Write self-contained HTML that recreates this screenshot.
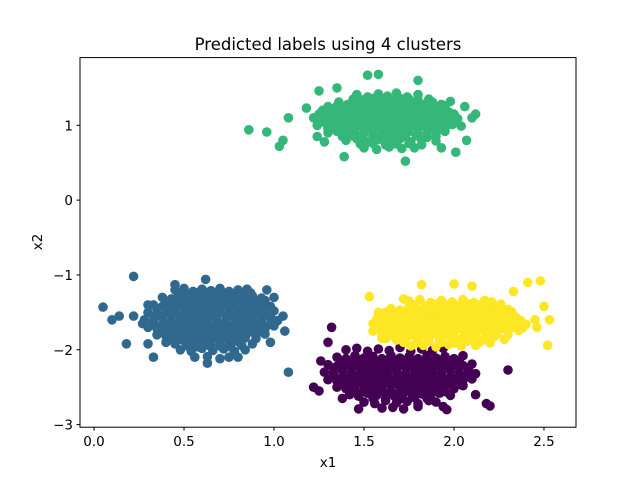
<!DOCTYPE html>
<html><head><meta charset="utf-8"><style>
body{margin:0;background:#fff;}
svg text{font-family:"DejaVu Sans","Liberation Sans",sans-serif;}
</style></head><body>
<svg id="chart" width="640" height="480" xmlns="http://www.w3.org/2000/svg">
<rect width="640" height="480" fill="#fff"/>
<text x="328" y="50" font-size="16.5" text-anchor="middle">Predicted labels using 4 clusters</text>
<g id="marks"></g>
<rect x="80" y="57.6" width="496" height="369.6" fill="none" stroke="#000" stroke-width="1"/>
<g id="axes"></g>
<text x="328" y="467" font-size="13.5" text-anchor="middle">x1</text>
<text x="0" y="0" font-size="13.5" text-anchor="middle" transform="translate(42,242) rotate(-90)">x2</text>
</svg>
<script>
const xTicks=[0.0,0.5,1.0,1.5,2.0,2.5];
const xTickLabels=["0.0","0.5","1.0","1.5","2.0","2.5"];
const yTicks=[1,0,-1,-2,-3];
const yTickLabels=["1","0","\u22121","\u22122","\u22123"];
const colors={purple:"#440154",blue:"#31688e",green:"#35b779",yellow:"#fde725"};
const purple=[[1.22,-2.5],[1.25,-2.55],[1.26,-2.15],[1.30,-1.9],[1.32,-1.7],[2.30,-2.27],[2.18,-2.72],[2.20,-2.75],[2.12,-2.6],[1.47,-2.79],[1.96,-2.8],[1.38,-2.65],
[1.40,-2.0],[1.46,-1.98],[1.52,-2.02],[1.58,-1.99],[1.64,-2.01],[1.70,-1.97],[1.76,-2.02],[1.82,-1.99],[1.88,-2.01],[1.94,-1.98],
[1.35,-2.1],[1.40,-2.12],[1.45,-2.08],[1.50,-2.11],[1.55,-2.09],[1.60,-2.12],[1.65,-2.08],[1.70,-2.11],[1.75,-2.09],[1.80,-2.12],[1.85,-2.08],[1.90,-2.11],[1.95,-2.09],[2.00,-2.12],[2.05,-2.08],
[1.30,-2.2],[1.35,-2.22],[1.40,-2.18],[1.45,-2.21],[1.50,-2.19],[1.55,-2.22],[1.60,-2.18],[1.65,-2.21],[1.70,-2.19],[1.75,-2.22],[1.80,-2.18],[1.85,-2.21],[1.90,-2.19],[1.95,-2.22],[2.00,-2.18],[2.05,-2.21],[2.10,-2.19],
[1.28,-2.3],[1.33,-2.32],[1.38,-2.28],[1.43,-2.31],[1.48,-2.29],[1.53,-2.32],[1.58,-2.28],[1.63,-2.31],[1.68,-2.29],[1.73,-2.32],[1.78,-2.28],[1.83,-2.31],[1.88,-2.29],[1.93,-2.32],[1.98,-2.28],[2.03,-2.31],[2.08,-2.29],[2.12,-2.32],
[1.30,-2.4],[1.35,-2.42],[1.40,-2.38],[1.45,-2.41],[1.50,-2.39],[1.55,-2.42],[1.60,-2.38],[1.65,-2.41],[1.70,-2.39],[1.75,-2.42],[1.80,-2.38],[1.85,-2.41],[1.90,-2.39],[1.95,-2.42],[2.00,-2.38],[2.05,-2.41],[2.10,-2.39],
[1.35,-2.5],[1.40,-2.52],[1.45,-2.48],[1.50,-2.51],[1.55,-2.49],[1.60,-2.52],[1.65,-2.48],[1.70,-2.51],[1.75,-2.49],[1.80,-2.52],[1.85,-2.48],[1.90,-2.51],[1.95,-2.49],[2.00,-2.52],[2.05,-2.48],
[1.42,-2.6],[1.47,-2.62],[1.52,-2.58],[1.57,-2.61],[1.62,-2.59],[1.67,-2.62],[1.72,-2.58],[1.77,-2.61],[1.82,-2.59],[1.87,-2.62],[1.92,-2.58],[1.98,-2.61],
[1.50,-2.7],[1.56,-2.72],[1.62,-2.68],[1.68,-2.71],[1.74,-2.69],[1.80,-2.72],[1.86,-2.68],[1.90,-2.7],
[1.60,-2.78],[1.66,-2.77],[1.72,-2.79],[1.80,-2.76],[1.94,-2.76],
[1.38,-2.15],[1.43,-2.16],[1.48,-2.14],[1.53,-2.15],[1.58,-2.16],[1.63,-2.14],[1.68,-2.15],[1.73,-2.16],[1.78,-2.14],[1.83,-2.15],[1.88,-2.16],[1.93,-2.14],[1.98,-2.15],[2.03,-2.16],
[1.33,-2.25],[1.38,-2.26],[1.43,-2.24],[1.48,-2.25],[1.53,-2.26],[1.58,-2.24],[1.63,-2.25],[1.68,-2.26],[1.73,-2.24],[1.78,-2.25],[1.83,-2.26],[1.88,-2.24],[1.93,-2.25],[1.98,-2.26],[2.03,-2.24],[2.08,-2.25],
[1.33,-2.35],[1.38,-2.36],[1.43,-2.34],[1.48,-2.35],[1.53,-2.36],[1.58,-2.34],[1.63,-2.35],[1.68,-2.36],[1.73,-2.34],[1.78,-2.35],[1.83,-2.36],[1.88,-2.34],[1.93,-2.35],[1.98,-2.36],[2.03,-2.34],[2.08,-2.35],
[1.38,-2.45],[1.43,-2.46],[1.48,-2.44],[1.53,-2.45],[1.58,-2.46],[1.63,-2.44],[1.68,-2.45],[1.73,-2.46],[1.78,-2.44],[1.83,-2.45],[1.88,-2.46],[1.93,-2.44],[1.98,-2.45],[2.03,-2.46],
[1.45,-2.55],[1.50,-2.56],[1.55,-2.54],[1.60,-2.55],[1.65,-2.56],[1.70,-2.54],[1.75,-2.55],[1.80,-2.56],[1.85,-2.54],[1.90,-2.55],[1.95,-2.56],
[1.55,-2.65],[1.62,-2.65],[1.70,-2.66],[1.78,-2.64],[1.85,-2.65]];
const blue=[[0.05,-1.43],[0.10,-1.6],[0.14,-1.55],[0.18,-1.92],[0.22,-1.02],[0.22,-1.55],[0.27,-1.65],[0.30,-1.4],[0.33,-2.1],[0.30,-1.92],[1.05,-1.55],[1.08,-2.3],[1.06,-1.75],[1.00,-1.3],[0.96,-1.2],[0.62,-1.06],[0.45,-1.13],[0.80,-2.1],[0.63,-2.18],[0.98,-1.9],
[0.45,-1.2],[0.50,-1.18],[0.55,-1.22],[0.60,-1.19],[0.65,-1.21],[0.70,-1.18],[0.75,-1.22],[0.80,-1.2],[0.85,-1.19],
[0.38,-1.3],[0.43,-1.32],[0.48,-1.28],[0.53,-1.31],[0.58,-1.29],[0.63,-1.32],[0.68,-1.28],[0.73,-1.31],[0.78,-1.29],[0.83,-1.32],[0.88,-1.28],[0.93,-1.31],
[0.33,-1.4],[0.38,-1.42],[0.43,-1.38],[0.48,-1.41],[0.53,-1.39],[0.58,-1.42],[0.63,-1.38],[0.68,-1.41],[0.73,-1.39],[0.78,-1.42],[0.83,-1.38],[0.88,-1.41],[0.93,-1.39],[0.98,-1.42],
[0.30,-1.5],[0.35,-1.52],[0.40,-1.48],[0.45,-1.51],[0.50,-1.49],[0.55,-1.52],[0.60,-1.48],[0.65,-1.51],[0.70,-1.49],[0.75,-1.52],[0.80,-1.48],[0.85,-1.51],[0.90,-1.49],[0.95,-1.52],[1.00,-1.48],
[0.28,-1.6],[0.33,-1.62],[0.38,-1.58],[0.43,-1.61],[0.48,-1.59],[0.53,-1.62],[0.58,-1.58],[0.63,-1.61],[0.68,-1.59],[0.73,-1.62],[0.78,-1.58],[0.83,-1.61],[0.88,-1.59],[0.93,-1.62],[0.98,-1.58],[1.02,-1.61],
[0.30,-1.7],[0.35,-1.72],[0.40,-1.68],[0.45,-1.71],[0.50,-1.69],[0.55,-1.72],[0.60,-1.68],[0.65,-1.71],[0.70,-1.69],[0.75,-1.72],[0.80,-1.68],[0.85,-1.71],[0.90,-1.69],[0.95,-1.72],[1.00,-1.68],
[0.35,-1.8],[0.40,-1.82],[0.45,-1.78],[0.50,-1.81],[0.55,-1.79],[0.60,-1.82],[0.65,-1.78],[0.70,-1.81],[0.75,-1.79],[0.80,-1.82],[0.85,-1.78],[0.90,-1.81],[0.95,-1.79],
[0.40,-1.9],[0.45,-1.92],[0.50,-1.88],[0.55,-1.91],[0.60,-1.89],[0.65,-1.92],[0.70,-1.88],[0.75,-1.91],[0.80,-1.89],[0.88,-1.92],
[0.48,-2.0],[0.54,-2.02],[0.60,-1.98],[0.66,-2.01],[0.72,-1.99],[0.78,-2.02],[0.84,-2.0],
[0.56,-2.1],[0.63,-2.09],[0.70,-2.12],[0.75,-2.1],
[0.47,-1.25],[0.52,-1.26],[0.57,-1.24],[0.62,-1.25],[0.67,-1.26],[0.72,-1.24],[0.77,-1.25],[0.82,-1.26],[0.87,-1.24],
[0.40,-1.35],[0.45,-1.36],[0.50,-1.34],[0.55,-1.35],[0.60,-1.36],[0.65,-1.34],[0.70,-1.35],[0.75,-1.36],[0.80,-1.34],[0.85,-1.35],[0.90,-1.36],[0.95,-1.34],
[0.35,-1.45],[0.40,-1.46],[0.45,-1.44],[0.50,-1.45],[0.55,-1.46],[0.60,-1.44],[0.65,-1.45],[0.70,-1.46],[0.75,-1.44],[0.80,-1.45],[0.85,-1.46],[0.90,-1.44],[0.95,-1.45],
[0.33,-1.55],[0.38,-1.56],[0.43,-1.54],[0.48,-1.55],[0.53,-1.56],[0.58,-1.54],[0.63,-1.55],[0.68,-1.56],[0.73,-1.54],[0.78,-1.55],[0.83,-1.56],[0.88,-1.54],[0.93,-1.55],[0.98,-1.56],
[0.33,-1.65],[0.38,-1.66],[0.43,-1.64],[0.48,-1.65],[0.53,-1.66],[0.58,-1.64],[0.63,-1.65],[0.68,-1.66],[0.73,-1.64],[0.78,-1.65],[0.83,-1.66],[0.88,-1.64],[0.93,-1.65],[0.98,-1.66],
[0.38,-1.75],[0.43,-1.76],[0.48,-1.74],[0.53,-1.75],[0.58,-1.76],[0.63,-1.74],[0.68,-1.75],[0.73,-1.76],[0.78,-1.74],[0.83,-1.75],[0.88,-1.76],[0.93,-1.74],
[0.43,-1.85],[0.48,-1.86],[0.53,-1.84],[0.58,-1.85],[0.63,-1.86],[0.68,-1.84],[0.73,-1.85],[0.78,-1.86],[0.84,-1.84],[0.90,-1.85],
[0.52,-1.95],[0.58,-1.96],[0.64,-1.94],[0.70,-1.95],[0.76,-1.96],[0.82,-1.94]];
const green=[[0.86,0.94],[0.96,0.91],[1.03,0.72],[1.05,0.8],[1.08,1.1],[1.18,1.23],[1.25,1.46],[1.24,0.85],[1.28,0.78],[1.39,0.58],[1.52,1.67],[1.58,1.68],[1.73,0.52],[2.01,0.64],[2.06,1.25],[2.10,1.1],[2.07,0.8],[2.12,1.15],[1.98,1.32],[1.35,1.5],[1.80,1.6],[1.93,0.7],
[1.46,1.41],[1.52,1.38],[1.58,1.42],[1.63,1.39],[1.68,1.43],[1.74,1.38],[1.80,1.41],
[1.36,1.31],[1.41,1.28],[1.47,1.31],[1.52,1.28],[1.57,1.31],[1.62,1.28],[1.67,1.31],[1.72,1.28],[1.77,1.31],[1.83,1.28],[1.88,1.31],[1.93,1.28],
[1.27,1.2],[1.32,1.22],[1.37,1.18],[1.42,1.21],[1.47,1.19],[1.52,1.22],[1.57,1.18],[1.62,1.21],[1.67,1.19],[1.72,1.22],[1.77,1.18],[1.82,1.21],[1.87,1.19],[1.92,1.22],[1.97,1.18],
[1.22,1.1],[1.27,1.12],[1.32,1.08],[1.37,1.11],[1.42,1.09],[1.47,1.12],[1.52,1.08],[1.57,1.11],[1.62,1.09],[1.67,1.12],[1.72,1.08],[1.77,1.11],[1.82,1.09],[1.87,1.12],[1.92,1.08],[1.97,1.11],[2.02,1.09],
[1.24,1.0],[1.29,1.02],[1.34,0.98],[1.39,1.01],[1.44,0.99],[1.49,1.02],[1.54,0.98],[1.59,1.01],[1.64,0.99],[1.69,1.02],[1.74,0.98],[1.79,1.01],[1.84,0.99],[1.89,1.02],[1.94,0.98],[1.99,1.01],[2.04,0.99],
[1.30,0.9],[1.35,0.92],[1.40,0.88],[1.45,0.91],[1.50,0.89],[1.55,0.92],[1.60,0.88],[1.65,0.91],[1.70,0.89],[1.75,0.92],[1.80,0.88],[1.85,0.91],[1.90,0.89],[1.95,0.92],
[1.40,0.8],[1.46,0.82],[1.52,0.78],[1.58,0.81],[1.64,0.79],[1.70,0.82],[1.76,0.78],[1.82,0.81],[1.90,0.79],
[1.50,0.7],[1.57,0.68],[1.64,0.71],[1.71,0.69],[1.78,0.7],
[1.44,1.35],[1.49,1.34],[1.55,1.36],[1.60,1.35],[1.65,1.34],[1.70,1.36],[1.75,1.35],[1.80,1.34],[1.86,1.35],
[1.30,1.25],[1.35,1.26],[1.40,1.24],[1.45,1.25],[1.50,1.26],[1.55,1.24],[1.60,1.25],[1.65,1.26],[1.70,1.24],[1.75,1.25],[1.80,1.26],[1.85,1.24],[1.90,1.25],[1.95,1.26],
[1.25,1.15],[1.30,1.16],[1.35,1.14],[1.40,1.15],[1.45,1.16],[1.50,1.14],[1.55,1.15],[1.60,1.16],[1.65,1.14],[1.70,1.15],[1.75,1.16],[1.80,1.14],[1.85,1.15],[1.90,1.16],[1.95,1.14],[2.00,1.15],
[1.25,1.05],[1.30,1.06],[1.35,1.04],[1.40,1.05],[1.45,1.06],[1.50,1.04],[1.55,1.05],[1.60,1.06],[1.65,1.04],[1.70,1.05],[1.75,1.06],[1.80,1.04],[1.85,1.05],[1.90,1.06],[1.95,1.04],[2.00,1.05],
[1.30,0.95],[1.35,0.96],[1.40,0.94],[1.45,0.95],[1.50,0.96],[1.55,0.94],[1.60,0.95],[1.65,0.96],[1.70,0.94],[1.75,0.95],[1.80,0.96],[1.85,0.94],[1.90,0.95],[1.95,0.96],
[1.38,0.85],[1.43,0.86],[1.49,0.84],[1.55,0.85],[1.61,0.86],[1.67,0.84],[1.73,0.85],[1.79,0.86],[1.85,0.84],[1.90,0.85],
[1.48,0.75],[1.55,0.76],[1.62,0.74],[1.68,0.75],[1.75,0.76],[1.82,0.74]];
const yellow=[[1.53,-1.29],[1.58,-1.5],[1.72,-1.32],[1.82,-1.13],[2.00,-1.12],[2.33,-1.22],[2.41,-1.1],[2.48,-1.08],[2.50,-1.42],[2.53,-1.6],[2.52,-1.94],[2.45,-1.6],[2.46,-1.7],[2.10,-1.15],[1.60,-1.85],
[1.75,-1.35],[1.81,-1.33],[1.87,-1.37],[1.93,-1.34],[1.99,-1.36],[2.05,-1.33],[2.11,-1.37],[2.17,-1.34],[2.21,-1.36],
[1.65,-1.45],[1.70,-1.47],[1.75,-1.43],[1.80,-1.46],[1.85,-1.44],[1.90,-1.47],[1.95,-1.43],[2.00,-1.46],[2.05,-1.44],[2.10,-1.47],[2.15,-1.43],[2.20,-1.46],[2.25,-1.44],[2.30,-1.46],
[1.58,-1.55],[1.63,-1.57],[1.68,-1.53],[1.73,-1.56],[1.78,-1.54],[1.83,-1.57],[1.88,-1.53],[1.93,-1.56],[1.98,-1.54],[2.03,-1.57],[2.08,-1.53],[2.13,-1.56],[2.18,-1.54],[2.23,-1.57],[2.28,-1.53],[2.34,-1.56],
[1.55,-1.65],[1.60,-1.67],[1.65,-1.63],[1.70,-1.66],[1.75,-1.64],[1.80,-1.67],[1.85,-1.63],[1.90,-1.66],[1.95,-1.64],[2.00,-1.67],[2.05,-1.63],[2.10,-1.66],[2.15,-1.64],[2.20,-1.67],[2.25,-1.63],[2.30,-1.66],[2.35,-1.64],[2.40,-1.66],
[1.55,-1.75],[1.60,-1.77],[1.65,-1.73],[1.70,-1.76],[1.75,-1.74],[1.80,-1.77],[1.85,-1.73],[1.90,-1.76],[1.95,-1.74],[2.00,-1.77],[2.05,-1.73],[2.10,-1.76],[2.15,-1.74],[2.20,-1.77],[2.25,-1.73],[2.30,-1.76],[2.36,-1.74],
[1.62,-1.85],[1.68,-1.87],[1.74,-1.83],[1.80,-1.86],[1.86,-1.84],[1.92,-1.87],[1.98,-1.83],[2.04,-1.86],[2.10,-1.84],[2.16,-1.87],[2.22,-1.83],[2.28,-1.86],
[1.76,-1.95],[1.83,-1.94],[1.90,-1.96],[1.97,-1.93],[2.04,-1.95],[2.12,-1.94],
[1.78,-1.40],[1.84,-1.41],[1.90,-1.39],[1.96,-1.40],[2.02,-1.41],[2.08,-1.39],[2.14,-1.40],[2.20,-1.41],[2.26,-1.39],
[1.62,-1.50],[1.67,-1.51],[1.72,-1.49],[1.77,-1.50],[1.82,-1.51],[1.87,-1.49],[1.92,-1.50],[1.97,-1.51],[2.02,-1.49],[2.07,-1.50],[2.12,-1.51],[2.17,-1.49],[2.22,-1.50],[2.27,-1.51],[2.32,-1.49],
[1.57,-1.60],[1.62,-1.61],[1.67,-1.59],[1.72,-1.60],[1.77,-1.61],[1.82,-1.59],[1.87,-1.60],[1.92,-1.61],[1.97,-1.59],[2.02,-1.60],[2.07,-1.61],[2.12,-1.59],[2.17,-1.60],[2.22,-1.61],[2.27,-1.59],[2.32,-1.60],[2.37,-1.61],
[1.57,-1.70],[1.62,-1.71],[1.67,-1.69],[1.72,-1.70],[1.77,-1.71],[1.82,-1.69],[1.87,-1.70],[1.92,-1.71],[1.97,-1.69],[2.02,-1.70],[2.07,-1.71],[2.12,-1.69],[2.17,-1.70],[2.22,-1.71],[2.27,-1.69],[2.32,-1.70],[2.38,-1.71],
[1.60,-1.80],[1.65,-1.81],[1.70,-1.79],[1.76,-1.80],[1.82,-1.81],[1.88,-1.79],[1.94,-1.80],[2.00,-1.81],[2.06,-1.79],[2.12,-1.80],[2.18,-1.81],[2.24,-1.79],[2.30,-1.80],
[1.72,-1.90],[1.79,-1.91],[1.86,-1.89],[1.93,-1.90],[2.00,-1.91],[2.07,-1.89],[2.14,-1.90],[2.20,-1.91]];

const L=80,R=576,T=57.6,B=427.2;
const xMin=-0.078,xMax=2.678,yMin=-3.035,yMax=1.905;
function sx(v){return L+(v-xMin)/(xMax-xMin)*(R-L);}
function sy(v){return B-(v-yMin)/(yMax-yMin)*(B-T);}
const NS="http://www.w3.org/2000/svg";
const marks=document.getElementById('marks');
function draw(arr,col,name){
  arr.forEach(p=>{
    const c=document.createElementNS(NS,'circle');
    c.setAttribute('cx',sx(p[0]).toFixed(1));
    c.setAttribute('cy',sy(p[1]).toFixed(1));
    c.setAttribute('r',4.8);
    c.setAttribute('fill',col);
    
    
    marks.appendChild(c);
  });
}
draw(purple,colors.purple,'point-cluster-purple');
draw(blue,colors.blue,'point-cluster-blue');
draw(green,colors.green,'point-cluster-green');
draw(yellow,colors.yellow,'point-cluster-yellow');
const axes=document.getElementById('axes');
xTicks.forEach((t,i)=>{
  const x=sx(t);
  const l=document.createElementNS(NS,'line');
  l.setAttribute('x1',x);l.setAttribute('x2',x);l.setAttribute('y1',B);l.setAttribute('y2',B+3.5);
  l.setAttribute('stroke','#000');
  
  
  axes.appendChild(l);
  const tx=document.createElementNS(NS,'text');
  tx.setAttribute('x',x);tx.setAttribute('y',B+19);tx.setAttribute('font-size','13.5');tx.setAttribute('text-anchor','middle');
  tx.textContent=xTickLabels[i];
  
  
  axes.appendChild(tx);
});
yTicks.forEach((t,i)=>{
  const y=sy(t);
  const l=document.createElementNS(NS,'line');
  l.setAttribute('x1',L-3.5);l.setAttribute('x2',L);l.setAttribute('y1',y);l.setAttribute('y2',y);
  l.setAttribute('stroke','#000');
  
  
  axes.appendChild(l);
  const tx=document.createElementNS(NS,'text');
  tx.setAttribute('x',L-7);tx.setAttribute('y',y+5);tx.setAttribute('font-size','13.5');tx.setAttribute('text-anchor','end');
  tx.textContent=yTickLabels[i];
  
  
  axes.appendChild(tx);
});
</script>
</body></html>
